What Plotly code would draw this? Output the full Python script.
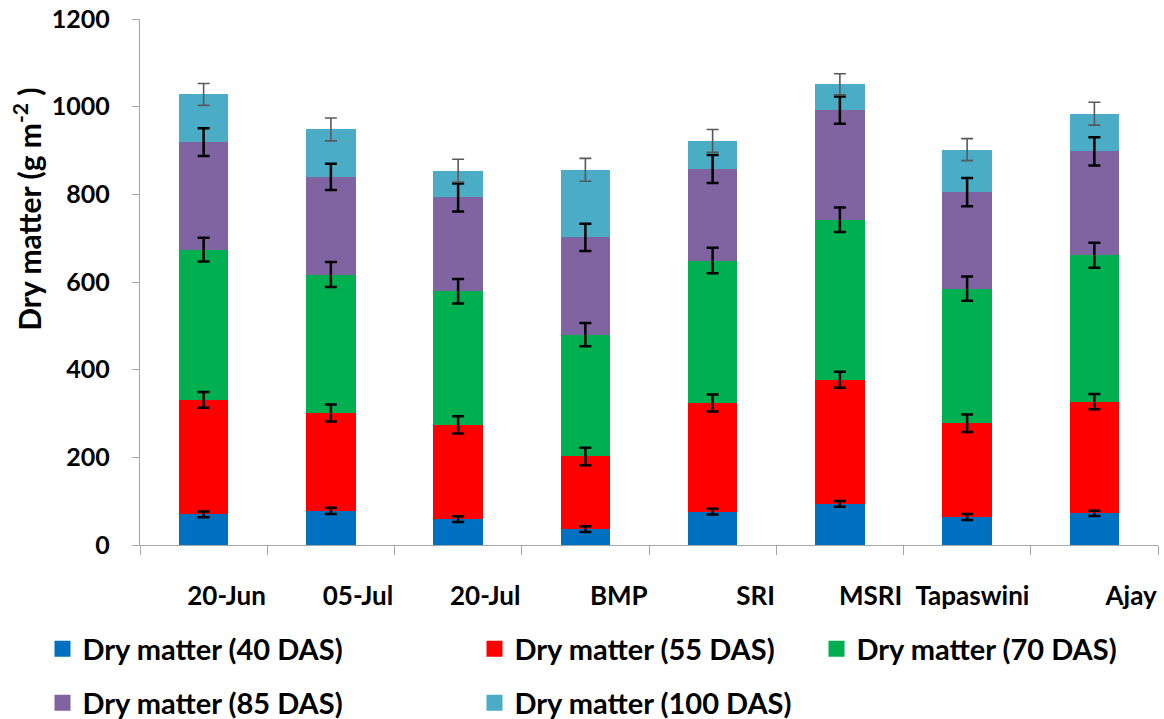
import numpy as np
import plotly.graph_objects as go

categories = ["20-Jun", "05-Jul", "20-Jul", "BMP", "SRI", "MSRI", "Tapaswini", "Ajay"]

series_names = ["Dry matter (40 DAS)", "Dry matter (55 DAS)", "Dry matter (70 DAS)",
                "Dry matter (85 DAS)", "Dry matter (100 DAS)"]

dm_40 = [70, 78, 59, 36, 76, 94, 64, 72]
dm_55 = [261, 223, 215, 166, 248, 283, 214, 255]
dm_70 = [343, 316, 305, 278, 325, 365, 307, 334]
dm_85 = [245, 223, 214, 222, 209, 250, 220, 237]
dm_100 = [109, 108, 61, 154, 64, 59, 97, 86]

err_40 = [6.5, 7, 6.5, 6.5, 6.5, 6.5, 7, 6]
err_55 = [18, 19.5, 19.5, 20, 19.5, 18, 20, 17.5]
err_70 = [27, 28.5, 28, 26.5, 29, 28, 27.5, 28.5]
err_85 = [31.5, 30, 32, 31, 32, 31, 32, 32]
err_100 = [25, 26, 26, 26, 26, 24, 25, 26]

y_ticks = [0, 200, 400, 600, 800, 1000, 1200]

colors = ["#0070C0", "#FF0000", "#00B050", "#8064A2", "#4BACC6"]
values = [dm_40, dm_55, dm_70, dm_85, dm_100]
errors = [err_40, err_55, err_70, err_85, err_100]
err_colors = ["#000000", "#000000", "#000000", "#000000", "#595959"]
err_thick = [2.5, 2.5, 2.5, 2.5, 1.6]
legend_ids = ["legend", "legend", "legend3", "legend2", "legend2"]

FONT = "Lato"
xpos = list(range(len(categories)))
cum_tops = np.cumsum(np.array(values, dtype=float), axis=0)

fig = go.Figure()
for name, vals, col in zip(series_names, values, colors):
    fig.add_trace(go.Bar(
        x=xpos, y=vals, name=name, marker=dict(color=col, line=dict(width=0)),
        showlegend=False, hoverinfo="skip",
    ))

# error bars drawn on top of the whole stack, at each segment's top
for tops, errs, ec, et in zip(cum_tops, errors, err_colors, err_thick):
    fig.add_trace(go.Scatter(
        x=xpos, y=tops, mode="markers",
        marker=dict(size=1, color="rgba(0,0,0,0)"),
        error_y=dict(type="data", array=errs, color=ec, thickness=et, width=6),
        showlegend=False, hoverinfo="skip",
    ))

# legend entries (square swatches)
for name, col, lg in zip(series_names, colors, legend_ids):
    fig.add_trace(go.Scatter(
        x=[None], y=[None], mode="markers", name=name, legend=lg,
        marker=dict(symbol="square", size=17, color=col),
    ))

tick_pos = [i - 0.5 for i in range(len(categories) + 1)]
tick_txt = [" "] + categories

axis_col = "#A6A6A6"
leg_font = dict(family=FONT, size=29, color="black", weight="bold")
W, H = 1164, 719
leg_x0 = 42.5
col_w = 387
row1_y, row2_y = 649, 703

def legend_box(xpx, ypx):
    return dict(
        orientation="h", xref="container", yref="container",
        x=xpx / W, xanchor="left", y=1 - ypx / H, yanchor="middle",
        entrywidth=col_w, entrywidthmode="pixels", traceorder="normal",
        font=leg_font, bgcolor="rgba(0,0,0,0)",
    )

fig.update_layout(
    barmode="stack",
    bargap=0.61,
    width=W, height=H,
    margin=dict(l=140, r=6, t=19, b=174, autoexpand=False),
    plot_bgcolor="white", paper_bgcolor="white",
    font=dict(family=FONT, color="black"),
    xaxis=dict(
        range=[-0.5, len(categories) - 0.5],
        tickvals=tick_pos, ticktext=tick_txt,
        ticklabelposition="outside left",
        showline=True, linecolor=axis_col, linewidth=1.3,
        ticks="outside", ticklen=9, tickcolor=axis_col, tickwidth=1.3,
        showgrid=False, zeroline=False,
        tickfont=dict(family=FONT, size=26, color="black", weight="bold"),
        ticklabelstandoff=28,
    ),
    yaxis=dict(
        range=[0, 1200], tickvals=y_ticks,
        showline=True, linecolor=axis_col, linewidth=1.3,
        ticks="outside", ticklen=7, tickcolor=axis_col, tickwidth=1.3,
        showgrid=False, zeroline=False,
        tickfont=dict(family=FONT, size=25, color="black", weight="bold"),
        ticklabelstandoff=17,
    ),
    legend=legend_box(leg_x0, row1_y),
    legend3=legend_box(leg_x0 + 2 * col_w, row1_y),
    legend2=legend_box(leg_x0, row2_y),
    annotations=[dict(
        text="Dry matter (g m<sup>-2</sup> )", textangle=-90,
        xref="paper", yref="paper", x=-0.111, y=0.6375,
        xanchor="center", yanchor="middle", showarrow=False,
        font=dict(family=FONT, size=30, color="black", weight="bold"),
    )],
)

fig.write_html("out.html", post_script="document.body.style.margin='0';",
               config={"displayModeBar": False})
